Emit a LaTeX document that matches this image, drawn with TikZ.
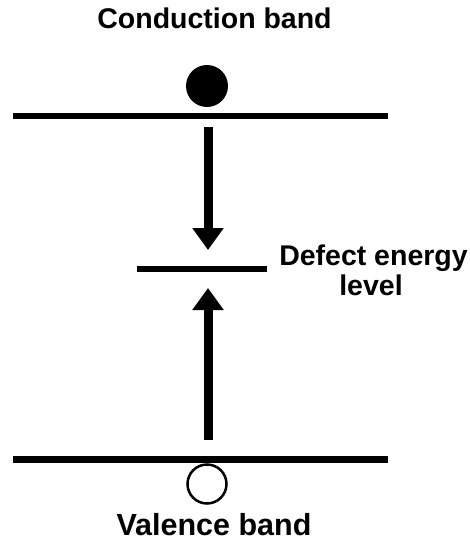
\documentclass[tikz,border=0pt]{standalone}
\usepackage{fontspec}
\setmainfont{Liberation Sans}
\usetikzlibrary{arrows.meta}
\begin{document}
\begin{tikzpicture}[x=1pt,y=-1pt,
  band/.style={line width=6.5pt},
  lbl/.style={font=\fontsize{28.5}{25}\selectfont\bfseries, inner sep=0pt, anchor=base},
  trans/.style={line width=9pt, -{Triangle[length=22pt,width=30pt]}},
  electron/.style={circle, fill=black, minimum size=42pt, inner sep=0pt},
  hole/.style={circle, draw=black, line width=2.5pt, minimum size=39pt, inner sep=0pt}]
\useasboundingbox (0,0) rectangle (469,544);
\node[lbl] (cb) at (214.5,28) {Conduction band};
\node[electron] (e) at (207,86) {};
\coordinate (cbL) at (13,116);
\coordinate (cbR) at (388,116);
\draw[band] (cbL) -- (cbR);
\coordinate (dL) at (137,269);
\coordinate (dR) at (267,269);
\draw[band] (dL) -- (dR);
\node[lbl] (dl1) at (373.5,265.5) {Defect energy};
\node[lbl] (dl2) at (371,295) {level};
\coordinate (vbL) at (13,459.5);
\coordinate (vbR) at (388,459.5);
\draw[band] (vbL) -- (vbR);
\node[hole] (h) at (207,484) {};
\node[lbl, font=\fontsize{30.5}{25}\selectfont\bfseries] (vb) at (214,535) {Valence band};
\coordinate (a1s) at (208,127);
\coordinate (a1e) at (208,250);
\draw[trans] (a1s) -- (a1e);
\coordinate (a2s) at (208,440);
\coordinate (a2e) at (208,288);
\draw[trans] (a2s) -- (a2e);
\end{tikzpicture}
\end{document}
